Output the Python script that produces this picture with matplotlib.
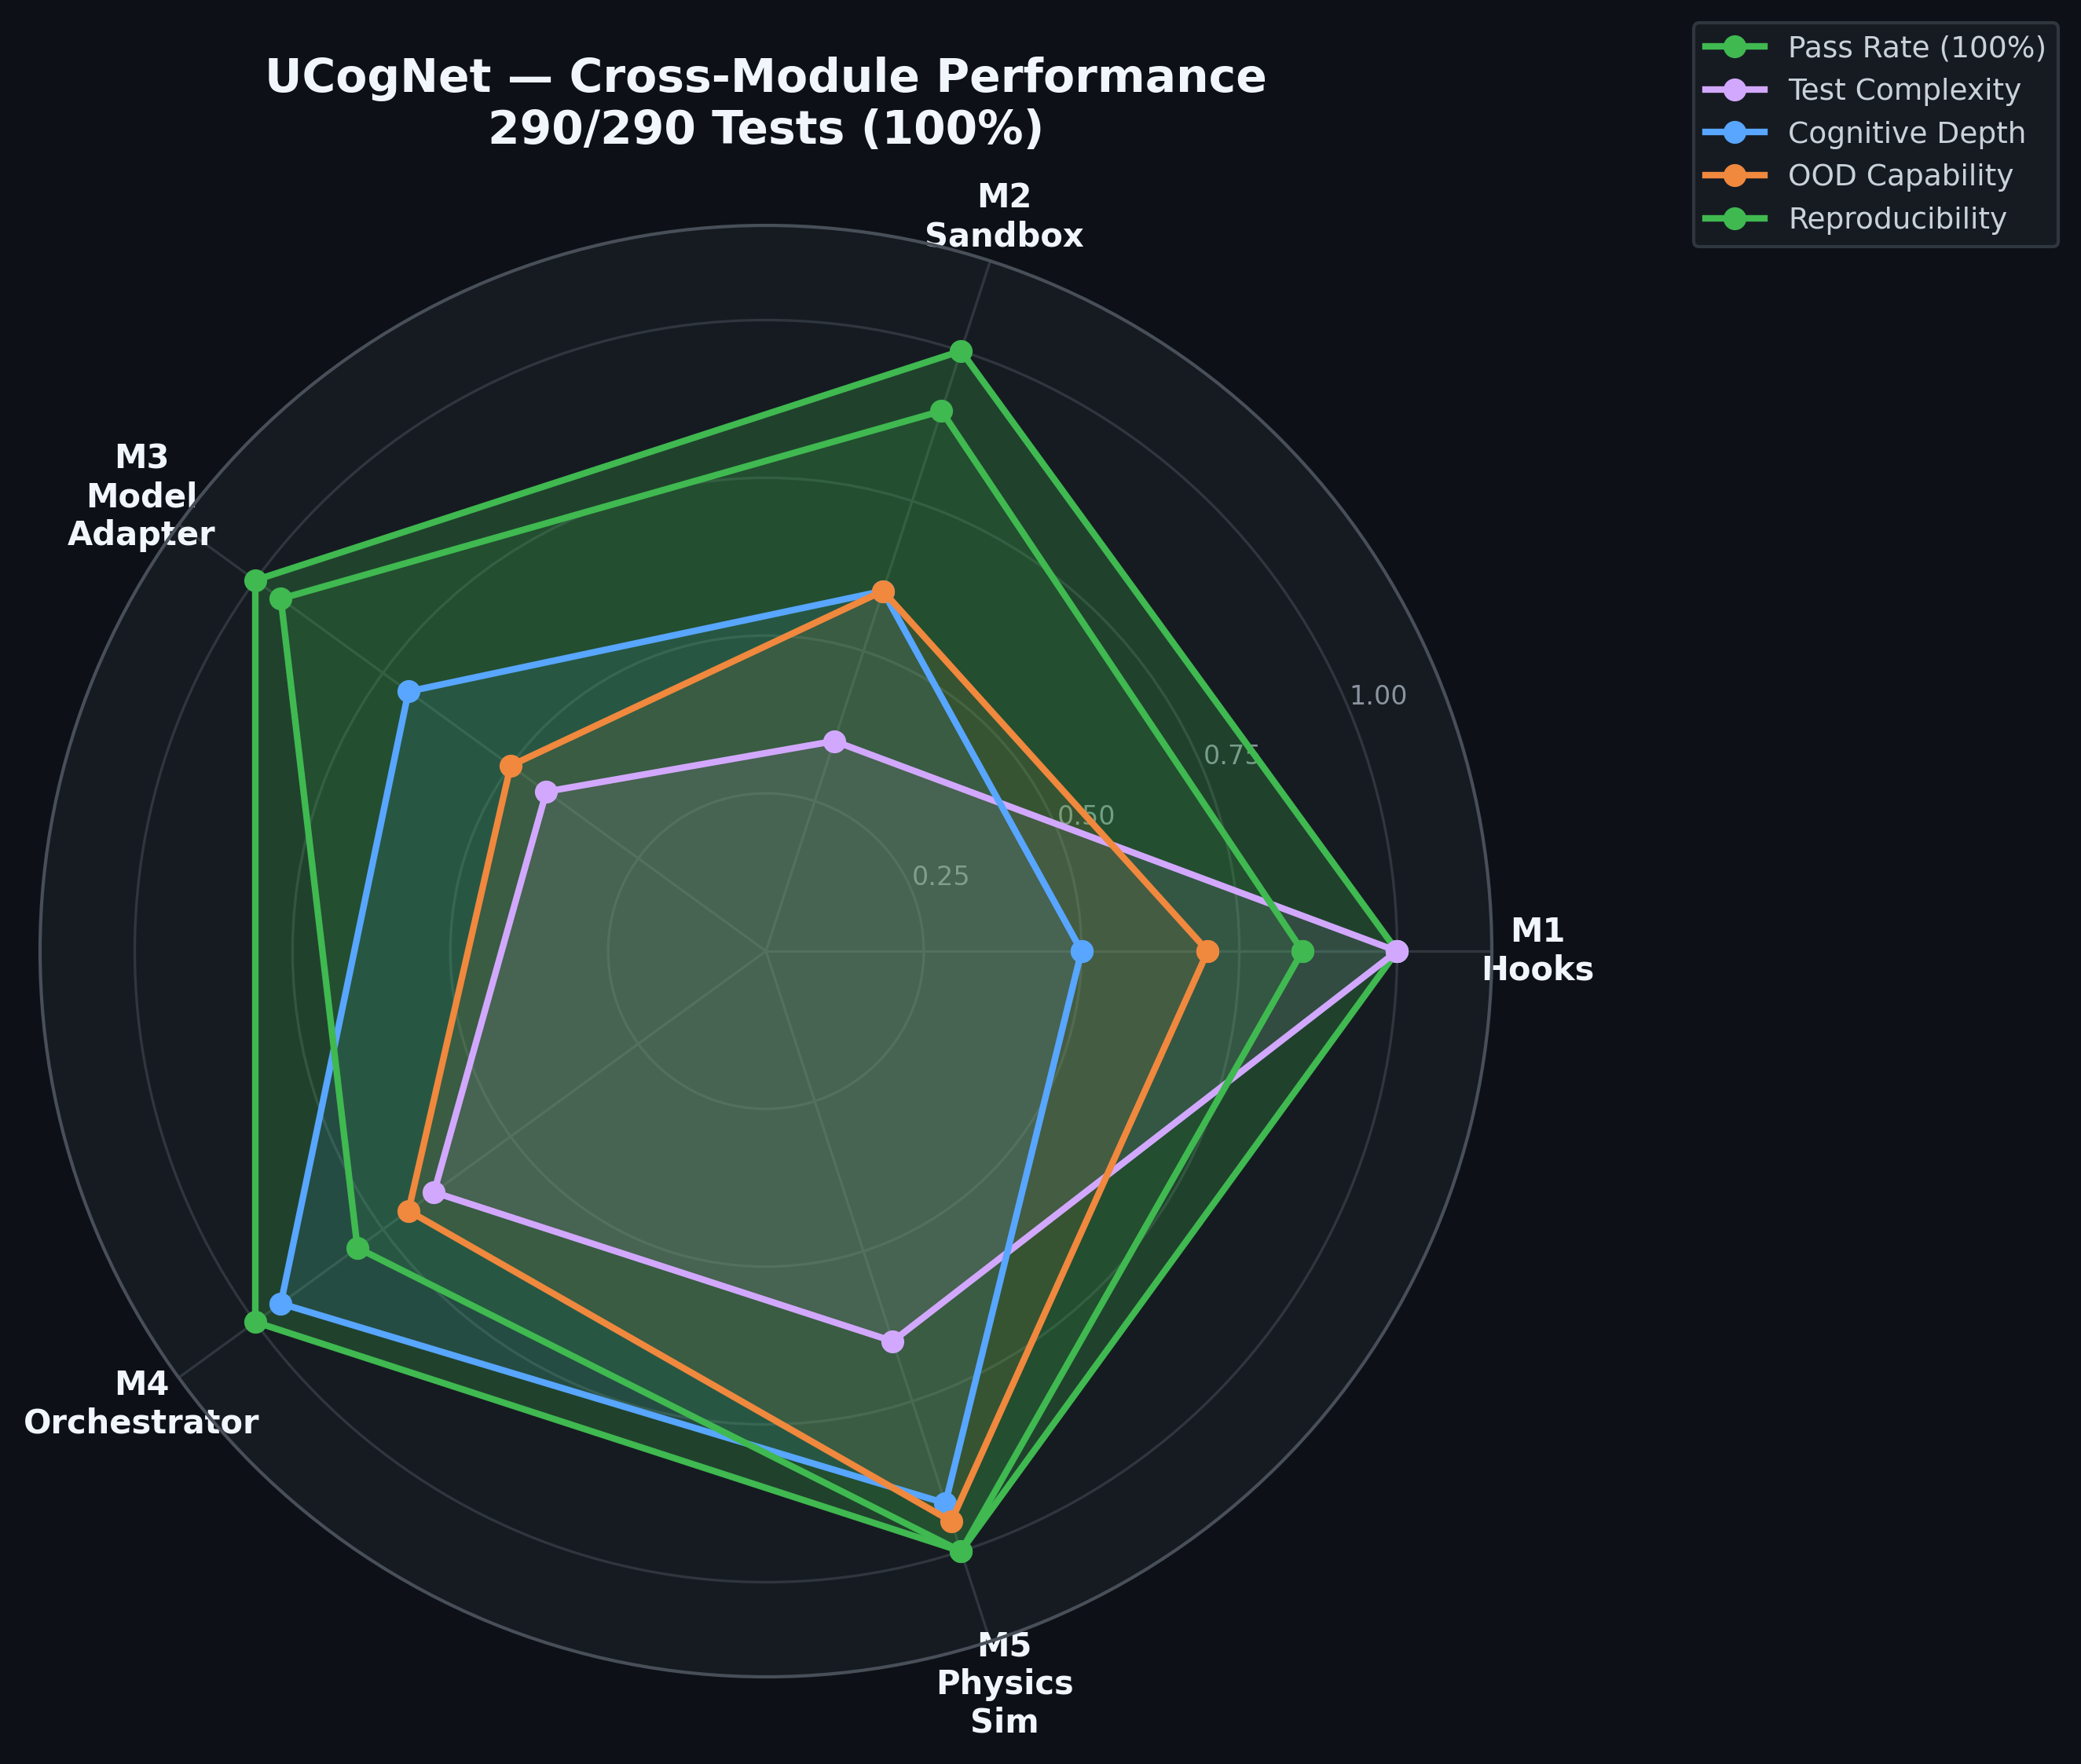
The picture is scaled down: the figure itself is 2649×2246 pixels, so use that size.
import numpy as np
import matplotlib
matplotlib.use("Agg")
import matplotlib.pyplot as plt

categories = ["M1\nHooks", "M2\nSandbox", "M3\nModel\nAdapter", "M4\nOrchestrator", "M5\nPhysics\nSim"]
series_names = ["Pass Rate (100%)", "Test Complexity", "Cognitive Depth", "OOD Capability", "Reproducibility"]
pass_rate = [1.00, 1.00, 1.00, 1.00, 1.00]
test_complexity = [1.00, 0.35, 0.43, 0.65, 0.65]
cognitive_depth = [0.50, 0.60, 0.70, 0.95, 0.92]
ood_capability = [0.70, 0.60, 0.50, 0.70, 0.95]
reproducibility = [0.85, 0.90, 0.95, 0.80, 1.00]
series_colors = ["#3fb950", "#d2a8ff", "#58a6ff", "#f0883e", "#3fb950"]
series_alpha = [0.25, 0.1, 0.1, 0.1, 0.1]
rticks = [0.25, 0.50, 0.75, 1.00]
rtick_labels = ["0.25", "0.50", "0.75", "1.00"]
title = "UCogNet — Cross-Module Performance\n290/290 Tests (100%)"

BG = "#0d1117"
FACE = "#161b22"

fig = plt.figure(figsize=(2649 / 300, 2246 / 300), dpi=300, facecolor=BG)
ax = fig.add_axes([51 / 2649, 111 / 2246, 1848 / 2649, 1848 / 2246], projection="polar")
ax.set_facecolor(FACE)

n = len(categories)
angles = np.linspace(0, 2 * np.pi, n, endpoint=False).tolist()
angles_closed = angles + angles[:1]

all_series = [pass_rate, test_complexity, cognitive_depth, ood_capability, reproducibility]
for name, vals, col, a in zip(series_names, all_series, series_colors, series_alpha):
    v = list(vals) + [vals[0]]
    ax.plot(angles_closed, v, "o-", color=col, linewidth=2, markersize=6, label=name, zorder=3)
    ax.fill(angles_closed, v, color=col, alpha=a, zorder=2)

ax.set_ylim(0, 1.15)
ax.set_yticks(rticks)
ax.set_yticklabels(rtick_labels, color="#8b949e", fontsize=8)
ax.set_rlabel_position(22.5)
ax.set_xticks(angles)
ax.set_xticklabels(categories, color="#f0f6fc", fontsize=10, fontweight="bold")
ax.grid(color="#30363d", linewidth=0.8)
ax.spines["polar"].set_color("#484f58")
ax.spines["polar"].set_linewidth(1.0)

ax.set_title(title, color="#f0f6fc", fontsize=14, fontweight="bold", y=1.0, pad=25)

leg = ax.legend(loc="upper right", bbox_to_anchor=(2620 / 2649, 1 - 29 / 2246),
                bbox_transform=fig.transFigure, borderaxespad=0, fontsize=9,
                facecolor=FACE, edgecolor="#30363d", framealpha=1.0)
for t in leg.get_texts():
    t.set_color("#c9d1d9")

fig.savefig("out.png", dpi=300, facecolor=BG)
